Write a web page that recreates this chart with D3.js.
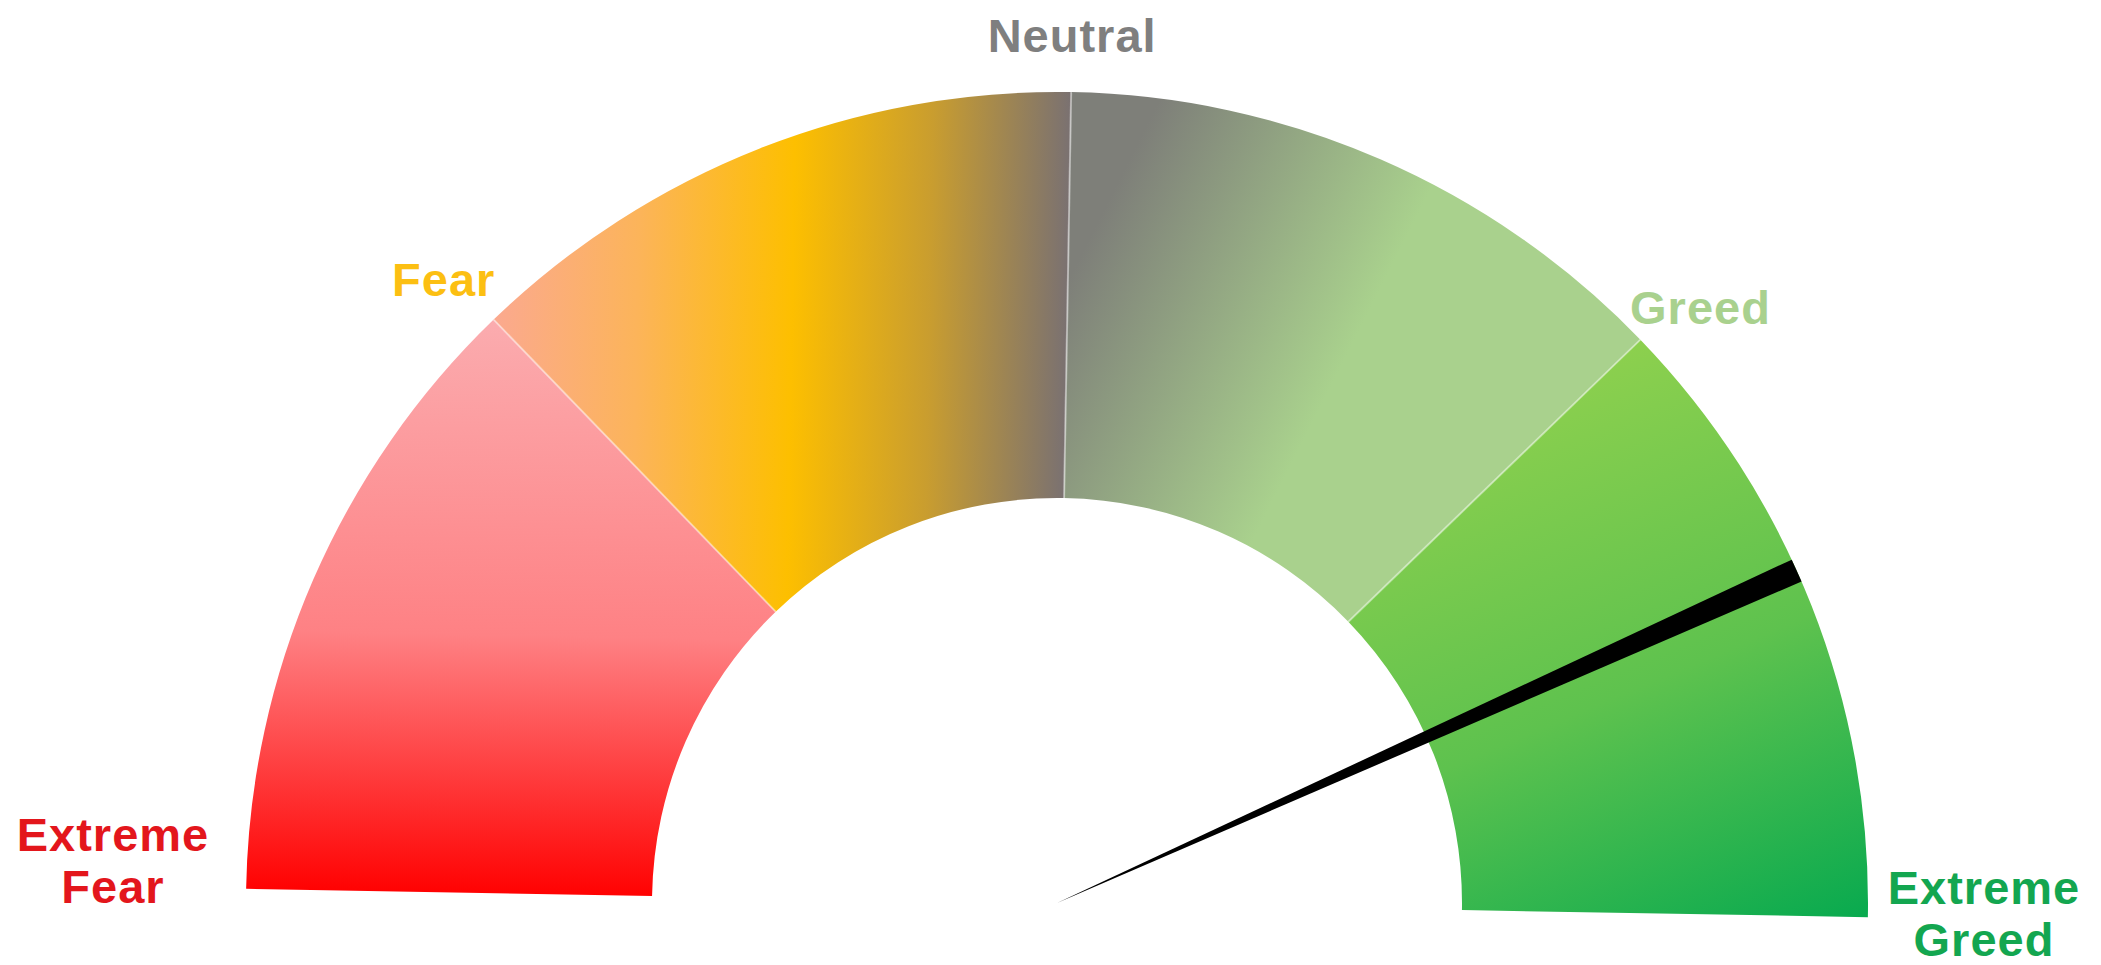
<!DOCTYPE html>
<html lang="en">
<head>
  <meta charset="UTF-8">
  <title>Fear &amp; Greed gauge</title>
  <script src="https://cdnjs.cloudflare.com/ajax/libs/d3/7.8.5/d3.min.js"></script>
  <style>
    html, body { margin: 0; padding: 0; background: #fff; }
  </style>
</head>
<body>
  <script>

    // data
    const segmentStarts = [0, 25, 50, 75];
    const segmentEnds = [25, 50, 75, 100];
    const tickValues = [0, 25, 50, 75, 100];
    const tickLabels = ["Extreme Fear", "Fear", "Neutral", "Greed", "Extreme Greed"];
    const needleValue = 86;

    const svgWidth = 2101, svgHeight = 965;
    const cx = 1057, cy = 903;
    const outerR = 811, innerR = 405;
    const tilt = 1; // whole gauge is turned about 1 degree clockwise

    const labelColors = ["#e3161c", "#fcbf12", "#7f7f7f", "#a9d18e", "#13a650"];

    const svg = d3.select("body")
      .append("svg")
      .attr("width", svgWidth)
      .attr("height", svgHeight);

    // value -> angle (d3.arc convention, 0 = 12 o'clock)
    const angle = d3.scaleLinear().domain([0, 100]).range([-Math.PI / 2, Math.PI / 2]);

    // gradients (coords relative to gauge centre)
    const defs = svg.append("defs");
    const s45 = outerR * Math.SQRT1_2;
    const grads = [
      { id: "g0", x1: 0, y1: -s45, x2: 0, y2: 0,
        stops: [[0, "#fbacaf"], [0.55, "#fe8184"], [1, "#ff0202"]] },
      { id: "g1", x1: -s45, y1: 0, x2: 0, y2: 0,
        stops: [[0, "#fba98f"], [0.25, "#fcb45a"], [0.52, "#fdbf00"], [0.76, "#c99d2f"], [1, "#7a7171"]] },
      { id: "g2", x1: -30, y1: -560, x2: 224, y2: -437,
        stops: [[0, "#7e7f79"], [1, "#a9d18d"]] },
      { id: "g3", x1: 560, y1: -570, x2: 820, y2: 20,
        stops: [[0, "#8dd04e"], [0.5, "#5ec24e"], [1, "#02a84f"]] }
    ];
    grads.forEach(g => {
      const lg = defs.append("linearGradient")
        .attr("id", g.id)
        .attr("gradientUnits", "userSpaceOnUse")
        .attr("x1", g.x1).attr("y1", g.y1)
        .attr("x2", g.x2).attr("y2", g.y2);
      g.stops.forEach(s => lg.append("stop").attr("offset", s[0]).attr("stop-color", s[1]));
    });

    const gauge = svg.append("g")
      .attr("transform", `translate(${cx},${cy}) rotate(${tilt})`);

    const arc = d3.arc()
      .innerRadius(innerR)
      .outerRadius(outerR)
      .startAngle((d, i) => angle(segmentStarts[i]))
      .endAngle((d, i) => angle(segmentEnds[i]));

    gauge.selectAll("path.seg")
      .data(segmentStarts)
      .enter()
      .append("path")
      .attr("class", "seg")
      .attr("d", (d, i) => arc(d, i))
      .attr("fill", (d, i) => `url(#g${i})`);

    // thin light lines between the segments
    gauge.selectAll("line.sep")
      .data(segmentStarts.slice(1))
      .enter()
      .append("line")
      .attr("class", "sep")
      .attr("x1", d => innerR * Math.sin(angle(d)))
      .attr("y1", d => -innerR * Math.cos(angle(d)))
      .attr("x2", d => outerR * Math.sin(angle(d)))
      .attr("y2", d => -outerR * Math.cos(angle(d)))
      .attr("stroke", "rgba(255,255,255,0.45)")
      .attr("stroke-width", 2);

    // needle: thin wedge from centre to outer edge
    const half = 12 / outerR;
    const needleArc = d3.arc()
      .innerRadius(0)
      .outerRadius(outerR)
      .startAngle(angle(needleValue) - half)
      .endAngle(angle(needleValue) + half);
    gauge.append("path")
      .attr("d", needleArc())
      .attr("fill", "#000");

    // labels
    const labelR = [945, 875, 868, 877, 927];
    const labelShift = [1.6, -0.5, 0, 1.2, -0.4]; // degrees, extra turn per label
    const labels = svg.append("g")
      .attr("font-family", "'Liberation Sans', Arial, Helvetica, sans-serif")
      .attr("font-weight", "bold")
      .attr("font-size", "47px")
      .attr("letter-spacing", "1px")
      .attr("text-anchor", "middle");

    labels.selectAll("text")
      .data(tickValues)
      .enter()
      .append("text")
      .attr("fill", (d, i) => labelColors[i])
      .attr("transform", (d, i) => {
        const a = angle(d) + (tilt + labelShift[i]) * Math.PI / 180;
        const x = cx + labelR[i] * Math.sin(a);
        const y = cy - labelR[i] * Math.cos(a);
        return `translate(${x},${y})`;
      })
      .each(function (d, i) {
        const words = tickLabels[i].split(" ");
        const t = d3.select(this);
        const lineH = 52;
        const top = -(words.length - 1) * lineH / 2 + 17;
        words.forEach((w, k) => {
          t.append("tspan")
            .attr("x", 0)
            .attr("y", top + k * lineH)
            .text(w);
        });
      });

  </script>
</body>
</html>
